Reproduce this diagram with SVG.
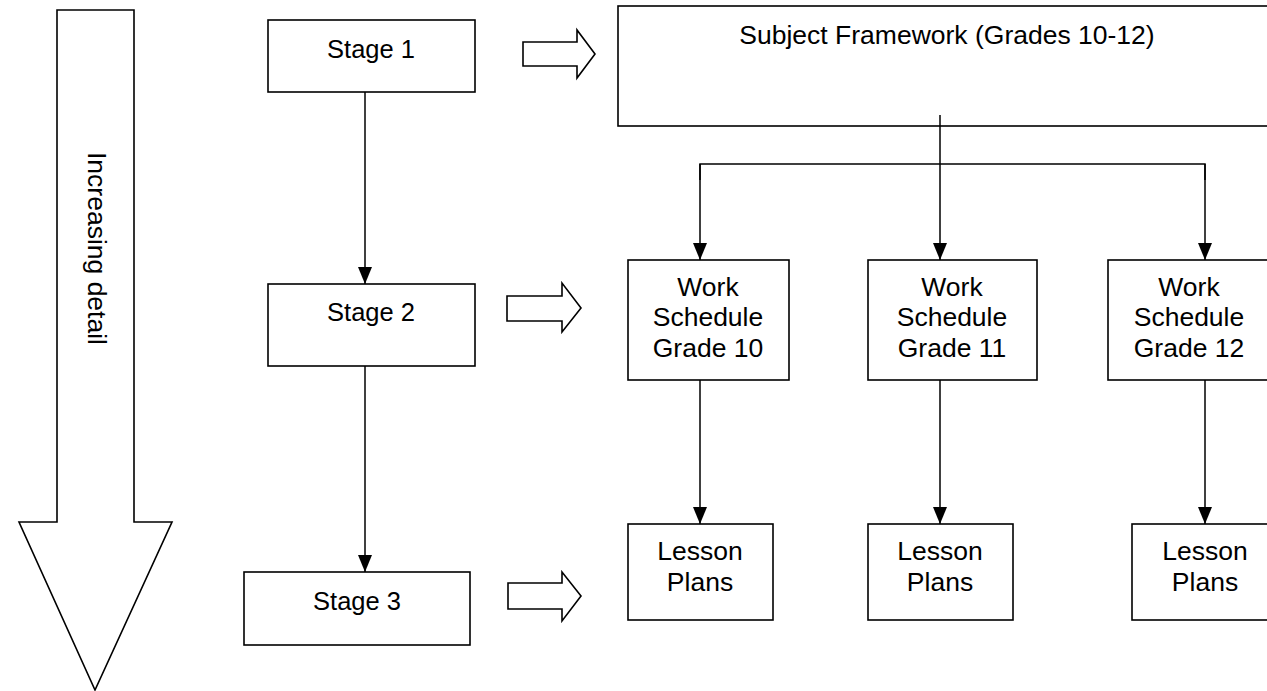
<svg xmlns="http://www.w3.org/2000/svg" width="1267" height="691" viewBox="0 0 1267 691">
<defs>
<style>
.box{fill:#fff;stroke:#000;stroke-width:1.6}
.shape{fill:#fff;stroke:#000;stroke-width:1.6;stroke-linejoin:miter}
.con{fill:none;stroke:#000;stroke-width:1.5}
text{font-family:"Liberation Sans",Arial,sans-serif;font-size:26.5px;fill:#000;text-anchor:middle}
.stg{font-size:25.5px}
</style>
<marker id="ah" viewBox="0 0 17 14" refX="17" refY="7" markerWidth="17" markerHeight="14" markerUnits="userSpaceOnUse" orient="auto">
<path d="M0,0 L17,7 L0,14 z" fill="#000"/>
</marker>
</defs>
<rect width="1267" height="691" fill="#fff"/>

<g id="detail-arrow">
<polygon class="shape" points="57,10 134,10 134,522 172,522 95,690 19,522 57,522"/>
<text transform="translate(88,152) rotate(90)" x="0" y="0" style="text-anchor:start">Increasing detail</text>
</g>

<g id="hollow-arrows">
<polygon class="shape" points="523,42 577,42 577,30 595,54 577,78 577,66 523,66"/>
<polygon class="shape" points="507,296 562,296 562,283 581,308 562,332 562,321 507,321"/>
<polygon class="shape" points="508,583 562,583 562,572 581,596 562,621 562,609 508,609"/>
</g>

<g id="connectors">
<line class="con" x1="365" y1="92" x2="365" y2="284" marker-end="url(#ah)"/>
<line class="con" x1="365" y1="356" x2="365" y2="572" marker-end="url(#ah)"/>
<line class="con" x1="940" y1="115" x2="940" y2="260" marker-end="url(#ah)"/>
<polyline class="con" points="700,180 700,164 1205,164 1205,180"/>
<line class="con" x1="700" y1="164" x2="700" y2="260" marker-end="url(#ah)"/>
<line class="con" x1="1205" y1="164" x2="1205" y2="260" marker-end="url(#ah)"/>
<line class="con" x1="700" y1="380" x2="700" y2="524" marker-end="url(#ah)"/>
<line class="con" x1="940" y1="380" x2="940" y2="524" marker-end="url(#ah)"/>
<line class="con" x1="1205" y1="380" x2="1205" y2="524" marker-end="url(#ah)"/>
</g>

<g id="stage1">
<rect class="box" x="268" y="20" width="207" height="72"/>
<text class="stg" x="371" y="58">Stage 1</text>
</g>
<g id="stage2">
<rect class="box" x="268" y="284" width="207" height="82"/>
<text class="stg" x="371" y="321">Stage 2</text>
</g>
<g id="stage3">
<rect class="box" x="244" y="572" width="226" height="73"/>
<text class="stg" x="357" y="610">Stage 3</text>
</g>

<g id="framework">
<rect class="box" x="618" y="6" width="700" height="120"/>
<text x="947" y="44">Subject Framework (Grades 10-12)</text>
</g>
<line class="con" x1="940" y1="115" x2="940" y2="126"/>

<g id="ws10">
<rect class="box" x="628" y="260" width="161" height="120"/>
<text x="708" y="296">Work</text>
<text x="708" y="326">Schedule</text>
<text x="708" y="357">Grade 10</text>
</g>
<g id="ws11">
<rect class="box" x="868" y="260" width="169" height="120"/>
<text x="952" y="296">Work</text>
<text x="952" y="326">Schedule</text>
<text x="952" y="357">Grade 11</text>
</g>
<g id="ws12">
<rect class="box" x="1108" y="260" width="162" height="120"/>
<text x="1189" y="296">Work</text>
<text x="1189" y="326">Schedule</text>
<text x="1189" y="357">Grade 12</text>
</g>

<g id="lp1">
<rect class="box" x="628" y="524" width="145" height="96"/>
<text x="700" y="560">Lesson</text>
<text x="700" y="591">Plans</text>
</g>
<g id="lp2">
<rect class="box" x="868" y="524" width="145" height="96"/>
<text x="940" y="560">Lesson</text>
<text x="940" y="591">Plans</text>
</g>
<g id="lp3">
<rect class="box" x="1132" y="524" width="145" height="96"/>
<text x="1205" y="560">Lesson</text>
<text x="1205" y="591">Plans</text>
</g>
</svg>
